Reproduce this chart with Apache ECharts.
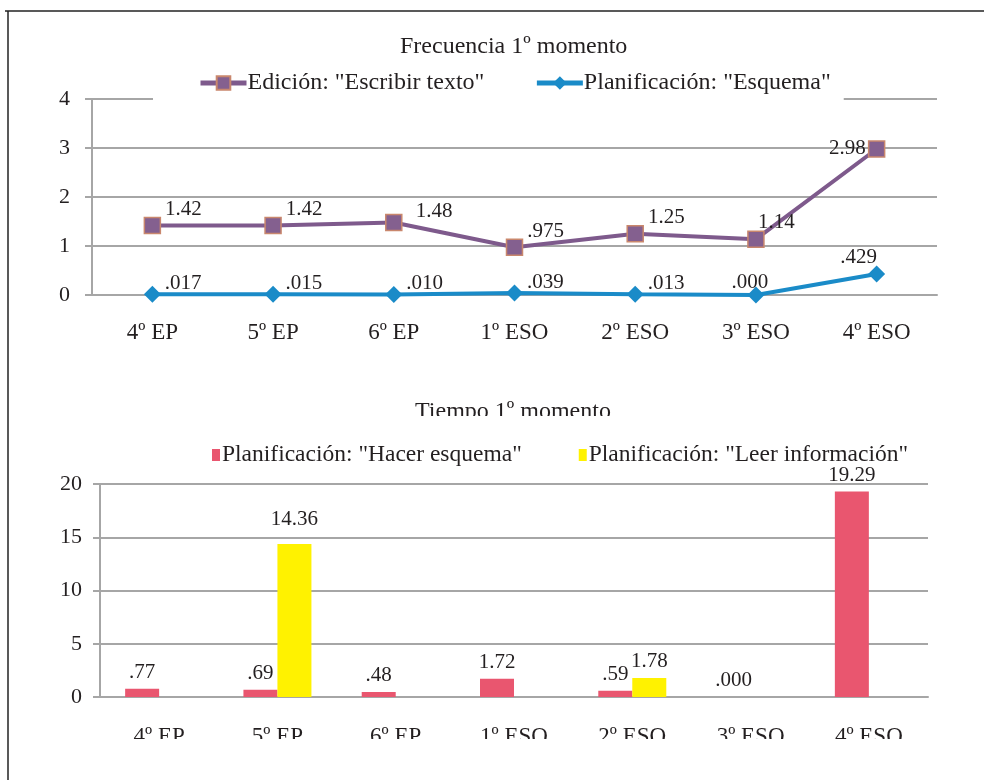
<!DOCTYPE html>
<html>
<head>
<meta charset="utf-8">
<script src="https://cdn.jsdelivr.net/npm/echarts@6/dist/echarts.min.js"></script>
<style>
  html, body { margin: 0; padding: 0; background: #fff; }
  #chart { width: 984px; height: 780px; }
</style>
</head>
<body>
<div id="chart"></div>
<script>
var cursos = ['4º EP', '5º EP', '6º EP', '1º ESO', '2º ESO', '3º ESO', '4º ESO'];

// Frecuencia 1º momento
var edicion = [1.42, 1.42, 1.48, 0.975, 1.25, 1.14, 2.98];
var edicionTxt = ['1.42', '1.42', '1.48', '.975', '1.25', '1.14', '2.98'];
var esquema = [0.017, 0.015, 0.010, 0.039, 0.013, 0.000, 0.429];
var esquemaTxt = ['.017', '.015', '.010', '.039', '.013', '.000', '.429'];

// Tiempo 1º momento
var hacerEsquema = [0.77, 0.69, 0.48, 1.72, 0.59, 0.000, 19.29];
var hacerTxt = ['.77', '.69', '.48', '1.72', '.59', '.000', '19.29'];
var leerInfo = [null, 14.36, null, null, 1.78, null, null];
var leerTxt = ['', '14.36', '', '', '1.78', '', ''];

var fuente = 'Liberation Serif';
var gris = '#a6a6a6';
var texto = '#231f20';

var myChart = echarts.init(document.getElementById('chart'));

function ejeX(idx, margen) {
  return {
    type: 'category', gridIndex: idx, data: cursos,
    axisLine: { lineStyle: { color: gris, width: 2 } },
    axisTick: { length: 6, lineStyle: { color: gris, width: 2 } },
    axisLabel: { color: texto, fontFamily: fuente, fontSize: 23, margin: margen }
  };
}
function ejeY(idx, max, step, margen) {
  return {
    type: 'value', gridIndex: idx, min: 0, max: max, interval: step,
    axisLine: { show: true, lineStyle: { color: gris, width: 2 } },
    axisTick: { show: true, length: 7, lineStyle: { color: gris, width: 2 } },
    axisLabel: { color: texto, fontFamily: fuente, fontSize: 22, margin: margen },
    splitLine: { lineStyle: { color: gris, width: 2 } }
  };
}

// etiquetas de las lineas: a la derecha y algo por encima del punto
function etiquetaLinea(dy, especiales) {
  return function (p) {
    var cx = p.rect.x + p.rect.width / 2;
    var cy = p.rect.y + p.rect.height / 2;
    var e = especiales[p.dataIndex];
    if (e) {
      return { x: cx + e[0], y: cy + e[1], align: e[2], verticalAlign: 'middle' };
    }
    return { x: p.rect.x + p.rect.width + 4, y: cy + dy, align: 'left', verticalAlign: 'middle' };
  };
}

var option = {
  backgroundColor: '#fff',
  animation: false,
  title: [
    { text: 'Frecuencia 1º momento', left: 395, top: 30,
      textStyle: { color: texto, fontFamily: fuente, fontSize: 24, fontWeight: 'normal' } },
    { text: 'Tiempo 1º momento', left: 410, top: 395,
      textStyle: { color: texto, fontFamily: fuente, fontSize: 24, fontWeight: 'normal' } }
  ],
  legend: [
    {
      data: ['Edición: "Escribir texto"', 'Planificación: "Esquema"'],
      left: 153, top: 66,
      backgroundColor: '#fff',
      padding: [5, 13, 8, 45],
      itemWidth: 46, itemHeight: 17, itemGap: 50,
      lineStyle: { width: 5 },
      textStyle: { color: texto, fontFamily: fuente, fontSize: 24, padding: [0, 0, 0, -4] }
    },
    {
      data: ['Planificación: "Hacer esquema"', 'Planificación: "Leer información"'],
      left: 207, top: 438,
      icon: 'rect', itemWidth: 8, itemHeight: 12, itemGap: 57,
      textStyle: { color: texto, fontFamily: fuente, fontSize: 23.5, padding: [0, 0, 0, -3] }
    }
  ],
  grid: [
    { left: 92, right: 47, top: 99, height: 196 },
    { left: 100, right: 56, top: 484, height: 213 }
  ],
  xAxis: [ejeX(0, 26), ejeX(1, 28)],
  yAxis: [ejeY(0, 4, 1, 22), ejeY(1, 20, 5, 18)],
  series: [
    {
      name: 'Edición: "Escribir texto"', type: 'line', xAxisIndex: 0, yAxisIndex: 0,
      data: edicion, symbol: 'rect', symbolSize: 16,
      lineStyle: { color: '#7e5a8c', width: 4 },
      itemStyle: { color: '#84608f', borderColor: '#c9876d', borderWidth: 1.5 },
      label: {
        show: true, color: texto, fontFamily: fuente, fontSize: 21,
        formatter: function (p) { return edicionTxt[p.dataIndex]; }
      },
      labelLayout: etiquetaLinea(-16, { 2: [22, -11, 'left'], 5: [2, -17, 'left'], 6: [-11, 0, 'right'] }),
      z: 3
    },
    {
      name: 'Planificación: "Esquema"', type: 'line', xAxisIndex: 0, yAxisIndex: 0,
      data: esquema, symbol: 'diamond', symbolSize: 17,
      lineStyle: { color: '#1a8bc8', width: 4 },
      itemStyle: { color: '#1a8bc8' },
      label: {
        show: true, color: texto, fontFamily: fuente, fontSize: 21,
        formatter: function (p) { return esquemaTxt[p.dataIndex]; }
      },
      labelLayout: etiquetaLinea(-11, { 5: [-6, -13, 'center'], 6: [-18, -16, 'center'] }),
      z: 3
    },
    {
      name: 'Planificación: "Hacer esquema"', type: 'bar', xAxisIndex: 1, yAxisIndex: 1,
      data: hacerEsquema, barWidth: 34, barGap: '0%',
      itemStyle: { color: '#e9566f' },
      label: {
        show: true, position: 'top', distance: 6,
        color: texto, fontFamily: fuente, fontSize: 21,
        formatter: function (p) { return hacerTxt[p.dataIndex]; }
      }
    },
    {
      name: 'Planificación: "Leer información"', type: 'bar', xAxisIndex: 1, yAxisIndex: 1,
      data: leerInfo, barWidth: 34, barGap: '0%',
      itemStyle: { color: '#fff200' },
      label: {
        show: true, position: 'top', distance: 6,
        color: texto, fontFamily: fuente, fontSize: 21,
        formatter: function (p) { return leerTxt[p.dataIndex]; }
      },
      labelLayout: function (p) {
        if (p.dataIndex === 1) return { dy: -8 };
      }
    }
  ],
  graphic: [
    // recortes de la imagen original
    { type: 'rect', z: 100, shape: { x: 300, y: 416, width: 420, height: 8 }, style: { fill: '#fff' } },
    { type: 'rect', z: 100, shape: { x: 10, y: 739, width: 974, height: 41 }, style: { fill: '#fff' } },
    // marco
    { type: 'line', z: 101, shape: { x1: 5, y1: 11, x2: 984, y2: 11 }, style: { stroke: '#222', lineWidth: 1.5 } },
    { type: 'line', z: 101, shape: { x1: 8, y1: 11, x2: 8, y2: 780 }, style: { stroke: '#222', lineWidth: 1.5 } }
  ]
};

myChart.setOption(option);
</script>
</body>
</html>
